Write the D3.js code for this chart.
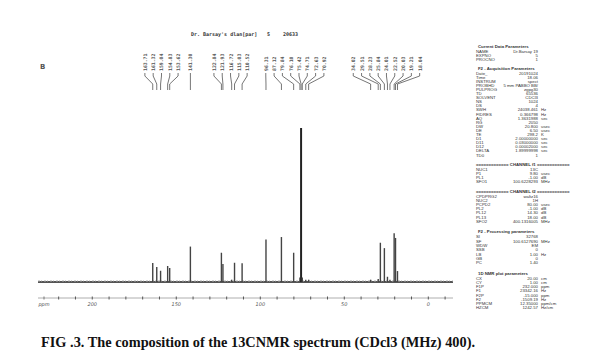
<!DOCTYPE html>
<html><head><meta charset="utf-8">
<script src="https://cdn.jsdelivr.net/npm/d3@7/dist/d3.min.js"></script>
<style>body{margin:0;background:#fff}svg{display:block}</style></head>
<body><svg id="c" width="616" height="358"></svg>
<script>
// ---- data ----
const peakPpm = [163.71, 161.32, 159.04, 154.83, 153.62, 141.30, 122.84, 121.93, 116.72, 115.03, 110.52,
  96.31, 87.12, 79.84, 76.10, 75.42, 74.71, 72.63, 70.92, 34.02, 29.51, 28.23, 25.84, 24.01, 22.52, 20.03, 19.21, 18.04];
const peakHeight = [12.3, 9.7, 7.3, 10.4, 9.1, 23, 19, 11.7, 1.5, 12.5, 12.1,
  27.6, 29.2, 19, 3, 100, 3, 1.5, 1.5, 1.5, 2, 25.5, 22, 3.4, 1.5, 31.6, 28.6, 7.1];
const axisTickPpm = [220, 210, 200, 190, 180, 170, 160, 150, 140, 130, 120, 110, 100, 90, 80, 70, 60, 50, 40, 30, 20, 10, 0, -10];
const axisLabelPpm = [200, 150, 100, 50, 0];
const axisUnit = "ppm";
const headerTexts = ["Dr. Barsay's dlan[par]", "5", "20633"];
const caption = "FIG .3. The composition of the 13CNMR spectrum (CDcl3 (MHz) 400).";
const paramTitles = ["Current Data Parameters", "F2 - Acquisition Parameters", "CHANNEL f1", "CHANNEL f2",
  "F2 - Processing parameters", "1D NMR plot parameters"];
const paramRowsA = [["NAME", "Dr.Barsay 19"], ["EXPNO", "5"], ["PROCNO", "1"]];
const paramRowsB = [["Date_", "20191024"], ["Time", "18.06"], ["INSTRUM", "spect"], ["PROBHD", "5 mm PABBO BB/"],
  ["PULPROG", "zgpg30"], ["TD", "65536"], ["SOLVENT", "CDCl3"], ["NS", "1024"], ["DS", "4"],
  ["SWH", "24038.461", "Hz"], ["FIDRES", "0.366798", "Hz"], ["AQ", "1.3631988", "sec"], ["RG", "2050"],
  ["DW", "20.800", "usec"], ["DE", "6.50", "usec"], ["TE", "298.2", "K"], ["D1", "2.00000000", "sec"],
  ["D11", "0.03000000", "sec"], ["D12", "0.00002000", "sec"], ["DELTA", "1.89999998", "sec"], ["TD0", "1"]];
const paramRowsC = [["NUC1", "13C"], ["P1", "9.80", "usec"], ["PL1", "-1.00", "dB"], ["SFO1", "100.6228293", "MHz"]];
const paramRowsD = [["CPDPRG2", "waltz16"], ["NUC2", "1H"], ["PCPD2", "80.00", "usec"], ["PL2", "-1.00", "dB"],
  ["PL12", "14.30", "dB"], ["PL13", "18.00", "dB"], ["SFO2", "400.1316005", "MHz"]];
const paramRowsE = [["SI", "32768"], ["SF", "100.6127690", "MHz"], ["WDW", "EM"], ["SSB", "0"],
  ["LB", "1.00", "Hz"], ["GB", "0"], ["PC", "1.40"]];
const paramRowsF = [["CX", "20.00", "cm"], ["CY", "1.00", "cm"], ["F1P", "232.000", "ppm"], ["F1", "23342.16", "Hz"],
  ["F2P", "-15.000", "ppm"], ["F2", "-1509.19", "Hz"], ["PPMCM", "12.35000", "ppm/cm"], ["HZCM", "1242.57", "Hz/cm"]];

// ---- layout ----
const svg = d3.select("#c");
svg.append("rect").attr("width", 616).attr("height", 358).attr("fill", "#fff");

const x = d3.scaleLinear().domain([232, -15]).range([38, 453]);
const y = d3.scaleLinear().domain([0, 100]).range([282, 128]);

// baseline (noise band)
svg.append("line").attr("x1", x(232)).attr("x2", x(-15)).attr("y1", y(0)).attr("y2", y(0))
  .attr("stroke", "#555").attr("stroke-width", 2);
svg.append("line").attr("x1", x(232)).attr("x2", x(-15)).attr("y1", y(0) - 1).attr("y2", y(0) - 1)
  .attr("stroke", "#aaa").attr("stroke-width", 1).attr("stroke-dasharray", "2,1,1,2");

const peaks = peakPpm.map((p, i) => ({ ppm: p, h: peakHeight[i] }));
svg.append("g").selectAll("line").data(peaks).join("line")
  .attr("x1", d => x(d.ppm)).attr("x2", d => x(d.ppm))
  .attr("y1", y(0)).attr("y2", d => y(d.h))
  .attr("stroke", d => d.h > 50 ? "#222" : "#444")
  .attr("stroke-width", d => d.h > 50 ? 2 : 1.4);

// axis
const axis = d3.axisBottom(x).tickValues(axisTickPpm)
  .tickFormat(d => axisLabelPpm.includes(d) ? d3.format("d")(d) : "").tickSize(2).tickPadding(2);
const ga = svg.append("g").attr("transform", "translate(0,298)").call(axis);
ga.select(".domain").attr("stroke", "#999").attr("stroke-width", 0.8).attr("d", `M${x(232)},0H${x(-15)}`);
ga.selectAll(".tick line").attr("stroke", "#555").attr("y1", -1.5).attr("y2", 1.5).attr("stroke-width", 1);
ga.selectAll(".tick text").attr("font-family", "DejaVu Sans").attr("font-size", 5).attr("fill", "#555")
  .attr("font-style", "italic");
svg.append("text").attr("x", 44).attr("y", 306).attr("text-anchor", "middle")
  .attr("font-family", "DejaVu Sans").attr("font-size", 5).attr("fill", "#555").attr("font-style", "italic").text(axisUnit);
svg.append("line").attr("x1", 44).attr("x2", 44).attr("y1", 296.5).attr("y2", 299.5).attr("stroke", "#777");

// peak labels with cluster spreading
const sp = 8.3;
const items = peaks.map(d => ({ d, px: x(d.ppm) })).sort((a, b) => a.px - b.px);
const clusters = [];
items.forEach(it => {
  clusters.push({ items: [it], sum: it.px, start: it.px });
  while (clusters.length > 1) {
    const c2 = clusters[clusters.length - 1], c1 = clusters[clusters.length - 2];
    const end1 = c1.start + (c1.items.length - 1) * sp;
    if (c2.start < end1 + sp) {
      c1.items = c1.items.concat(c2.items); c1.sum += c2.sum;
      const n = c1.items.length;
      c1.start = c1.sum / n - (n - 1) * sp / 2;
      clusters.pop();
    } else break;
  }
});
const labels = [];
clusters.forEach(c => c.items.forEach((it, i) => labels.push({ lx: c.start + i * sp, px: it.px, ppm: it.d.ppm })));
const gl = svg.append("g");
gl.selectAll("text").data(labels).join("text")
  .attr("transform", d => `translate(${d.lx + 2},71) rotate(-90)`)
  .attr("font-family", "DejaVu Sans Mono").attr("font-size", 4.8).attr("font-weight", "bold").attr("fill", "#555")
  .text(d => d3.format(".2f")(d.ppm));
gl.selectAll("path").data(labels).join("path")
  .attr("d", d => `M${d.lx},73V76L${d.px},84V90`)
  .attr("fill", "none").attr("stroke", "#666").attr("stroke-width", 0.9);

// header
const hx = [191, 267, 283];
svg.append("g").selectAll("text").data(headerTexts).join("text")
  .attr("x", (d, i) => hx[i]).attr("y", 36)
  .attr("font-family", "DejaVu Sans Mono").attr("font-size", 5).attr("font-weight", "bold").attr("fill", "#333")
  .text(d => d);
svg.append("text").attr("x", 40).attr("y", 69).attr("font-family", "DejaVu Sans").attr("font-size", 7)
  .attr("font-weight", "bold").attr("fill", "#555").text("B");

// parameter panel
const blocks = [paramRowsA, paramRowsB, paramRowsC, paramRowsD, paramRowsE, paramRowsF];
const blockY = [46, 68, 164, 191.7, 231.7, 273.3];
const rowGap = [4, 4.1, 4.2, 4.07, 4.33, 4.2];
const gp = svg.append("g").attr("font-family", "Liberation Sans").attr("font-size", 4.3).attr("fill", "#333");
blocks.forEach((rows, bi) => {
  const t = paramTitles[bi];
  const channel = t.startsWith("CHANNEL");
  gp.append("text").attr("x", channel ? 476 : 478).attr("y", blockY[bi] + 1.5)
    .attr("font-weight", "bold")
    .text(channel ? "============= " + t + " =============" : t);
  rows.forEach((r, ri) => {
    const yy = blockY[bi] + 5 + ri * rowGap[bi] + 1.5;
    gp.append("text").attr("x", 476).attr("y", yy).text(r[0]);
    gp.append("text").attr("x", 538).attr("y", yy).attr("text-anchor", "end").text(r[1]);
    if (r[2]) gp.append("text").attr("x", 541).attr("y", yy).text(r[2]);
  });
});

// caption
svg.append("text").attr("x", 41).attr("y", 347)
  .attr("font-family", "Liberation Serif").attr("font-weight", "bold").attr("font-size", 15).attr("fill", "#111")
  .attr("textLength", 434).attr("lengthAdjust", "spacingAndGlyphs")
  .text(caption);
</script></body></html>
